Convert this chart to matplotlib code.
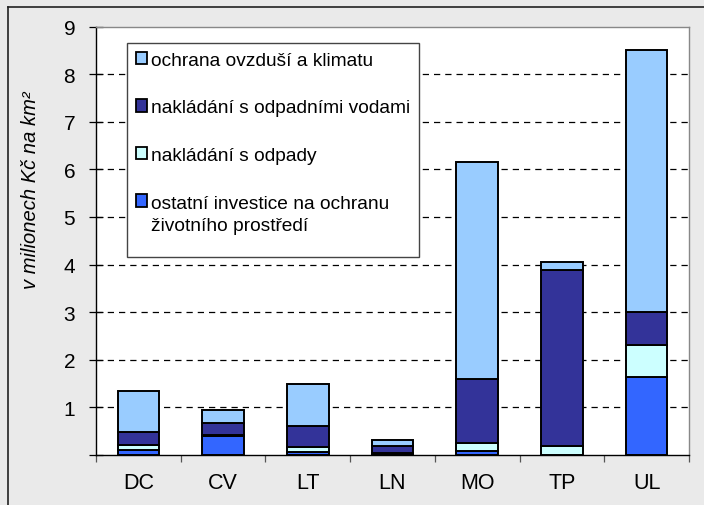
import matplotlib
matplotlib.use("Agg")
import matplotlib.pyplot as plt
from matplotlib.patches import Patch, Rectangle
from matplotlib.legend_handler import HandlerPatch
from matplotlib.lines import Line2D
import numpy as np

plt.rcParams['font.family'] = ['Liberation Sans', 'DejaVu Sans']

# investice do ochrany zivotniho prostredi (mil. Kc na km2)
kraje = ['DC', 'CV', 'LT', 'LN', 'MO', 'TP', 'UL']
ostatni = [0.10, 0.40, 0.06, 0.02, 0.08, 0.01, 1.64]
odpady = [0.11, 0.02, 0.10, 0.02, 0.17, 0.18, 0.67]
vody = [0.27, 0.25, 0.44, 0.14, 1.34, 3.69, 0.69]
ovzdusi = [0.87, 0.28, 0.89, 0.14, 4.56, 0.18, 5.51]

nazvy = ['ostatní investice na ochranu\nživotního prostředí',
         'nakládání s odpady',
         'nakládání s odpadními vodami',
         'ochrana ovzduší a klimatu']
barvy = ['#3366FF', '#CCFFFF', '#333399', '#99CCFF']

fig = plt.figure(figsize=(7.04, 5.06), dpi=100, facecolor='#EAEAEA')
ax = fig.add_axes([96 / 704, 50 / 506, 593 / 704, 428.5 / 506])
ax.set_facecolor('white')

x = np.arange(len(kraje))
spodek = np.zeros(len(kraje))
for hodnoty, barva in zip([ostatni, odpady, vody, ovzdusi], barvy):
    ax.bar(x, hodnoty, 0.49, bottom=spodek, color=barva,
           edgecolor='black', linewidth=1.4, zorder=3)
    spodek += np.array(hodnoty)

ax.set_xlim(-0.5, len(kraje) - 0.5)
ax.set_ylim(0, 9)

# osa y
ax.set_yticks(range(10))
ax.set_yticklabels([''] + [str(i) for i in range(1, 10)], fontsize=15)
ax.tick_params(axis='y', direction='inout', length=10, width=0.9, pad=10)
for yy in range(1, 9):
    ax.axhline(yy, color='black', linewidth=0.9, linestyle=(0, (5, 4)), zorder=1)

# osa x - popisky uprostred, znacky na hranicich
ax.set_xticks(x)
ax.set_xticklabels(kraje, fontsize=15.5)
ax.tick_params(axis='x', which='major', length=0, pad=12)
ax.set_xticks(np.arange(-0.5, len(kraje)), minor=True)
ax.tick_params(axis='x', which='minor', direction='out', length=5,
               width=0.9, color='#555555')

for s in ['left', 'bottom']:
    ax.spines[s].set_color('black')
    ax.spines[s].set_linewidth(1.0)
for s in ['top', 'right']:
    ax.spines[s].set_color('#888888')
    ax.spines[s].set_linewidth(1.0)

ax.set_ylabel('v milionech Kč na km²', fontsize=14.5, style='italic')
ax.yaxis.set_label_coords(-56 / 593, 0.62)


# ctverecek u dvouradkove polozky zarovnat k prvnimu radku
def horni_ctverec(legend, orig_handle, xdescent, ydescent, width, height, fontsize):
    return Rectangle((-xdescent, -ydescent + 0.72 * fontsize), width, height)


handles = [Patch(facecolor=b, edgecolor='black', linewidth=1.3) for b in barvy[::-1]]
leg = ax.legend(handles, nazvy[::-1], loc='upper left',
                bbox_to_anchor=(31 / 593, 412 / 428.5, 292 / 593, 0.0),
                mode='expand', fontsize=13.8, labelspacing=1.6,
                handlelength=0.6, handleheight=0.6, handletextpad=0.2,
                borderpad=0.45, borderaxespad=0, frameon=False,
                handler_map={handles[3]: HandlerPatch(patch_func=horni_ctverec)})
for t in leg.get_texts():
    t.set_linespacing(1.45)
leg.set_zorder(6)

# ramecek legendy (vyssi nez obsah, dole je volne misto)
ax.add_patch(Rectangle((31 / 593, 198 / 428.5), 292 / 593, 214 / 428.5,
                       transform=ax.transAxes, facecolor='white',
                       edgecolor='#444444', linewidth=1.0, zorder=5))

# ramecek obrazku
fig.add_artist(Line2D([8 / 704, 8 / 704], [0, 1 - 8 / 506], color='#222222',
                      linewidth=1.2, transform=fig.transFigure))
fig.add_artist(Line2D([8 / 704, 1], [1 - 8 / 506, 1 - 8 / 506], color='#222222',
                      linewidth=1.2, transform=fig.transFigure))

fig.savefig('out.png', dpi=100, facecolor=fig.get_facecolor())
